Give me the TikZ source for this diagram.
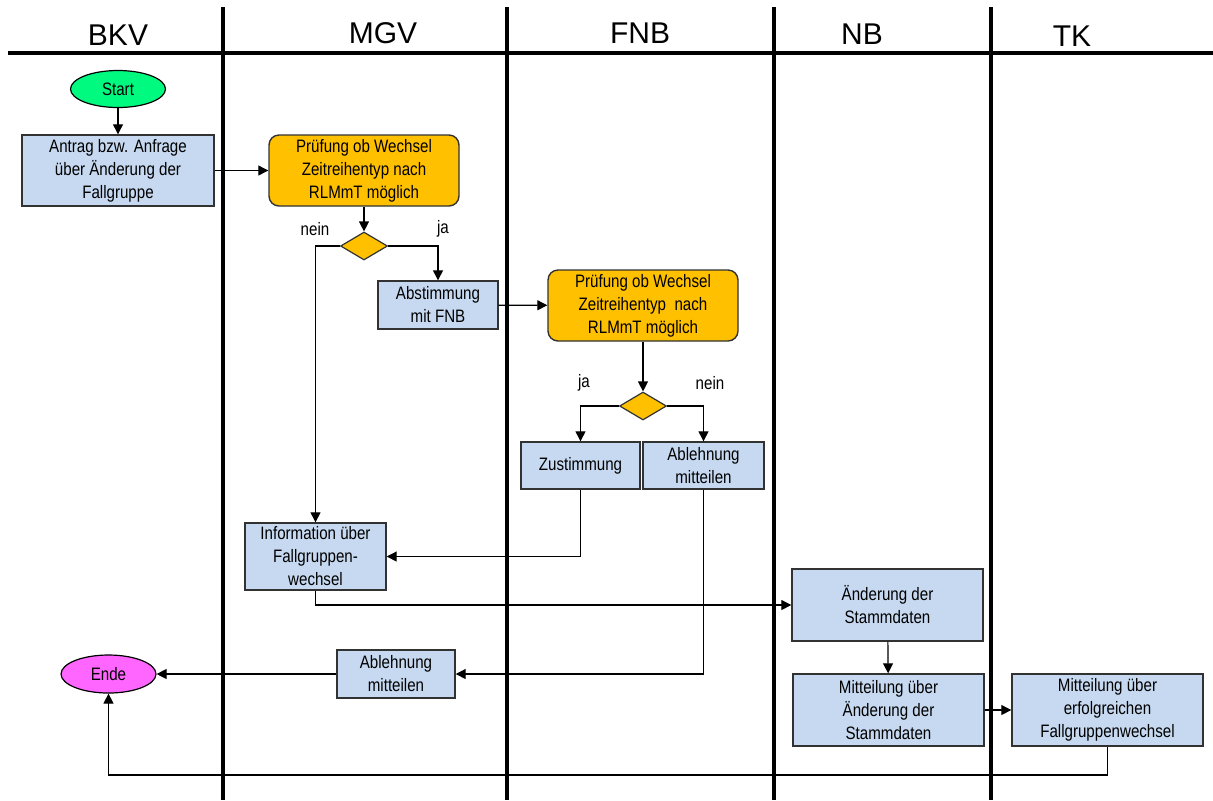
\documentclass[tikz,border=0pt]{standalone}
\usepackage{fontspec}
\setmainfont{Liberation Sans}
\newfontfamily\boxfont[FakeStretch=0.84]{Liberation Sans}
\usetikzlibrary{shapes.geometric,arrows.meta}
\definecolor{boxblue}{RGB}{198,217,240}
\definecolor{boxorange}{RGB}{255,192,0}
\definecolor{startgreen}{RGB}{0,250,128}
\definecolor{endmagenta}{RGB}{255,102,255}
\definecolor{edgegray}{RGB}{50,50,50}
\tikzset{
  lane/.style={line width=1.6pt, black},
  header/.style={font=\fontsize{15}{18}\selectfont, inner sep=0pt},
  txt/.style={font=\boxfont\fontsize{9}{11.5}\selectfont, align=center, inner sep=1pt},
  stepbox/.style={txt, rectangle, draw=edgegray, line width=0.7pt, fill=boxblue},
  checkbox/.style={txt, rectangle, rounded corners=5pt, draw=edgegray, line width=0.7pt, fill=boxorange, minimum width=95pt, minimum height=35.5pt},
  decision/.style={diamond, draw=edgegray, line width=0.6pt, fill=boxorange, inner sep=0pt, minimum width=23.5pt, minimum height=14pt},
  terminal/.style={txt, ellipse, draw=black, line width=0.6pt, minimum width=47.5pt, minimum height=18.5pt},
  lbl/.style={font=\boxfont\fontsize{9}{11}\selectfont, inner sep=0pt},
  arr/.style={line width=0.6pt, -{Triangle[length=5pt,width=5pt]}},
  conn/.style={line width=0.6pt}
}
\begin{document}
\begin{tikzpicture}[x=0.5pt,y=-0.5pt]
\useasboundingbox (0,0) rectangle (1213,800);
% swimlane lines
\draw[lane] (8,53) -- (1213,53);
\foreach \lx in {223,507,774,991} { \draw[lane] (\lx,7) -- (\lx,800); }
% headers
\node[header] (hbkv) at (118,35) {BKV};
\node[header] (hmgv) at (383,33) {MGV};
\node[header] (hfnb) at (640,33) {FNB};
\node[header] (hnb) at (862,34) {NB};
\node[header] (htk) at (1072,36) {TK};
% nodes
\node[terminal, fill=startgreen] (start) at (118,89) {Start};
\node[stepbox, minimum width=96pt, minimum height=35.5pt] (antrag) at (118,170.5) {Antrag bzw. Anfrage\\über Änderung der\\Fallgruppe};
\node[checkbox] (pr1) at (364,170.5) {Prüfung ob Wechsel\\Zeitreihentyp nach\\RLMmT möglich};
\node[decision] (d1) at (364,246) {};
\node[stepbox, minimum width=60pt, minimum height=24pt] (abst) at (438,305) {Abstimmung\\mit FNB};
\node[checkbox] (pr2) at (643,305.5) {Prüfung ob Wechsel\\Zeitreihentyp\ \ nach\\RLMmT möglich};
\node[decision] (d2) at (643,406) {};
\node[stepbox, minimum width=59.5pt, minimum height=23.5pt] (zust) at (580.5,465.5) {Zustimmung};
\node[stepbox, minimum width=60.5pt, minimum height=23.5pt] (abl1) at (703.5,465.5) {Ablehnung\\mitteilen};
\node[stepbox, minimum width=70.5pt, minimum height=33.5pt] (info) at (315.5,556.5) {Information über\\Fallgruppen-\\wechsel};
\node[stepbox, minimum width=59pt, minimum height=24pt] (abl2) at (396,674) {Ablehnung\\mitteilen};
\node[terminal, fill=endmagenta, minimum height=19pt] (ende) at (108.5,674) {Ende};
\node[stepbox, minimum width=95.5pt, minimum height=36pt] (aend) at (887.5,605) {Änderung der\\Stammdaten};
\node[stepbox, minimum width=95.5pt, minimum height=36pt] (mit1) at (888.5,710) {Mitteilung über\\Änderung der\\Stammdaten};
\node[stepbox, minimum width=95.5pt, minimum height=36pt] (tk) at (1107.5,710) {Mitteilung über\\erfolgreichen\\Fallgruppenwechsel};
% labels
\node[lbl] (lnein1) at (315,229) {nein};
\node[lbl] (lja1) at (443,229) {ja};
\node[lbl] (lja2) at (584,383) {ja};
\node[lbl] (lnein2) at (710,383) {nein};
\coordinate (bot) at (0,775);
% connectors
\draw[arr] (start) -- (antrag);
\draw[arr] (antrag) -- (pr1);
\draw[arr] (pr1) -- (d1);
\draw[arr] (d1.west) -| (info.north);
\draw[arr] (d1.east) -| (abst.north);
\draw[arr] (abst) -- (pr2);
\draw[arr] (pr2) -- (d2);
\draw[arr] (d2.west) -| (zust.north);
\draw[arr] (d2.east) -| (abl1.north);
\draw[arr] (zust.south) |- (info.east);
\draw[arr] (abl1.south) |- (abl2.east);
\draw[arr] (info.south) |- (aend.west);
\draw[arr] (abl2) -- (ende);
\draw[arr] (aend) -- (mit1);
\draw[arr] (mit1) -- (tk);
\draw[arr] (tk.south) -- (tk.south |- bot) -| (ende.south);
\end{tikzpicture}
\end{document}
